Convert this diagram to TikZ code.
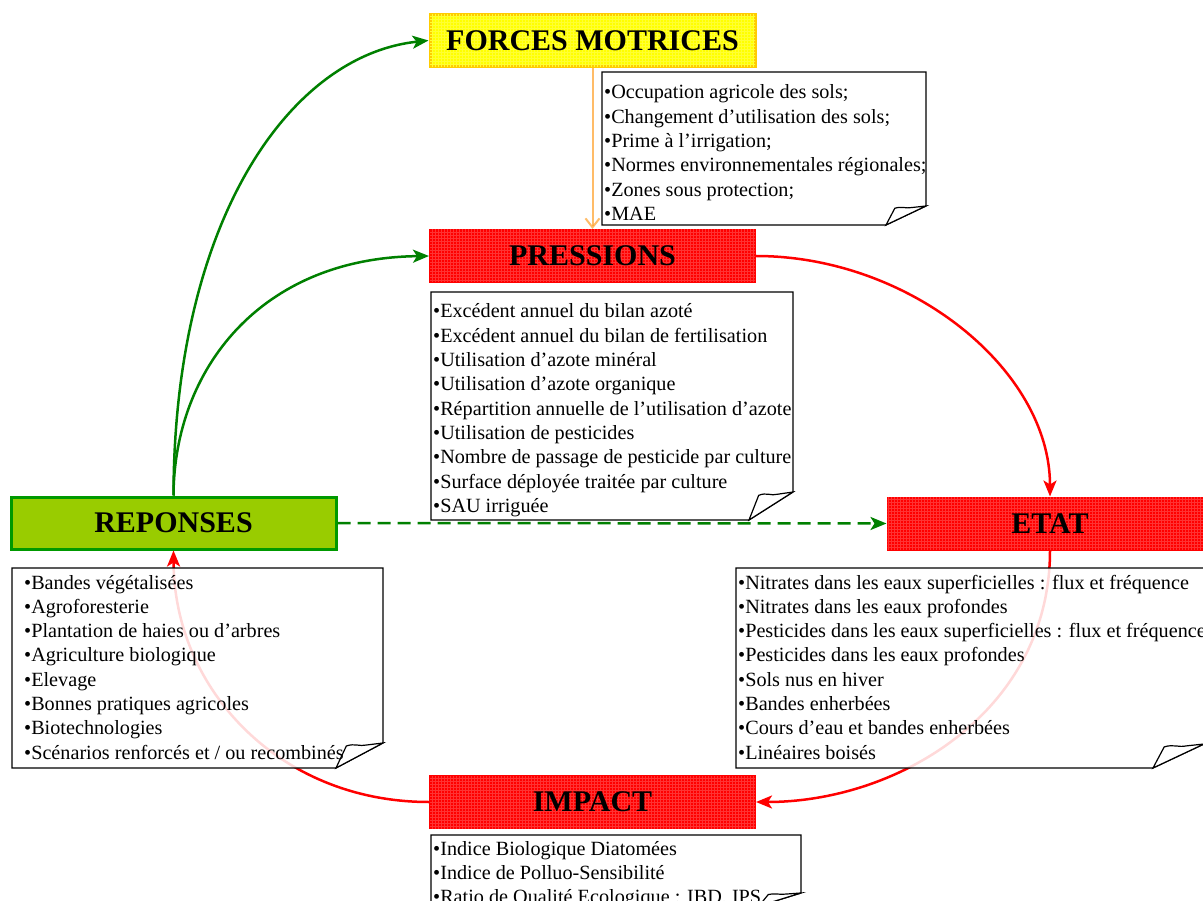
\documentclass[tikz,border=0pt]{standalone}
\usepackage{fontspec}
\setmainfont{Liberation Serif}
\usetikzlibrary{arrows.meta,patterns}
\definecolor{gfill}{RGB}{153,204,0}
\definecolor{gborder}{RGB}{0,153,0}
\definecolor{garrow}{RGB}{0,128,0}
\definecolor{yborder}{RGB}{255,204,0}
\definecolor{yfill}{RGB}{255,255,0}
\definecolor{oarrow}{RGB}{255,160,40}
\definecolor{rfill}{RGB}{255,0,0}
\newcommand{\notelines}[1]{\fontsize{20.2}{24.3}\selectfont\parbox[t]{600pt}{\raggedright #1}}
\newcommand{\foldnote}[6]{%
  \filldraw[notestyle] (#1,#2) -- (#3,#2) -- (#3,#4-#6) -- (#3-#5,#4) -- (#1,#4) -- cycle;
  \filldraw[notefold] (#3-#5,#4) -- (#3-0.78*#5,#4-0.88*#6)
     .. controls (#3-0.6*#5,#4-1.0*#6) and (#3-0.5*#5,#4-0.85*#6) .. (#3-0.35*#5,#4-0.92*#6)
     -- (#3,#4-#6) -- cycle;}
\tikzset{
  titlebox/.style={minimum width=325pt, minimum height=52pt, inner sep=0pt,
    font=\fontsize{30}{36}\selectfont\bfseries, text=black},
  redbox/.style={titlebox, fill=rfill, draw=rfill, line width=2pt,
    postaction={pattern=grid, pattern color=red!80!white}},
  yellowbox/.style={titlebox, fill=yfill, draw=yborder, line width=3pt,
    postaction={pattern=grid, pattern color=yellow!80!white}},
  greenbox/.style={titlebox, fill=gfill, draw=gborder, line width=3pt},
  notestyle/.style={draw=black, line width=1.2pt, fill=white, fill opacity=0.85},
  notefold/.style={draw=black, line width=1.2pt, fill=white},
  notetext/.style={anchor=base west, inner sep=0pt, text=black},
  garr/.style={draw=garrow, line width=2.5pt, -{Stealth[length=16pt,width=13pt,inset=4pt]}},
  rarr/.style={draw=red, line width=2.5pt, -{Stealth[length=16pt,width=13pt,inset=4pt]}},
  darr/.style={draw=garrow, line width=2.5pt, dash pattern=on 13pt off 7pt,
    -{Stealth[length=16pt,width=13pt,inset=4pt]}},
  oarr/.style={draw=oarrow, line width=2pt, -{Straight Barb[length=9pt,width=14pt]}}
}
\begin{document}
\begin{tikzpicture}[x=1pt,y=-1pt]
\useasboundingbox (0,0) rectangle (1203,901);
\clip (0,0) rectangle (1203,901);
\fill[white] (0,0) rectangle (1203,901);

% title boxes
\node[yellowbox] (fm) at (592.5,40.5) {FORCES MOTRICES};
\node[redbox] (pr) at (592.5,256) {PRESSIONS};
\node[greenbox] (rep) at (173.5,523) {REPONSES};
\node[redbox] (etat) at (1050,523.5) {ETAT};
\node[redbox] (imp) at (592.5,802) {IMPACT};

% connectors
\draw[garr] (rep.north) .. controls (174,220) and (290,55) .. (fm.west);
\draw[garr] (rep.north) .. controls (174,370) and (260,258) .. (pr.west);
\draw[rarr] (pr.east) .. controls (910,256) and (1050,370) .. (etat.north);
\draw[rarr] (etat.south) .. controls (1050,710) and (900,802) .. (imp.east);
\draw[rarr] (imp.west) .. controls (280,802) and (174,690) .. (rep.south);
\draw[darr] (rep.east) -- (etat.west);
\draw[oarr, draw opacity=0.7] (fm.south) -- (pr.north);

% notes
\foldnote{602}{72}{926}{225}{40}{19}
\foldnote{431}{292}{793}{520}{44}{28}
\foldnote{12}{568}{383}{768}{47}{25}
\foldnote{736}{568}{1204}{768}{51}{24}
\foldnote{431}{835}{801}{906}{42}{13}

\node[notetext] (nfm) at (604,99) {\notelines{%
•Occupation agricole des sols;\\
•Changement d’utilisation des sols;\\
•Prime à l’irrigation;\\
•Normes environnementales régionales;\\
•Zones sous protection;\\
•MAE}};
\node[notetext] (npr) at (433,318) {\notelines{%
•Excédent annuel du bilan azoté\\
•Excédent annuel du bilan de fertilisation\\
•Utilisation d’azote minéral\\
•Utilisation d’azote organique\\
•Répartition annuelle de l’utilisation d’azote\\
•Utilisation de pesticides\\
•Nombre de passage de pesticide par culture\\
•Surface déployée traitée par culture\\
•SAU irriguée}};
\node[notetext] (nrep) at (24,589) {\notelines{%
•Bandes végétalisées\\
•Agroforesterie\\
•Plantation de haies ou d’arbres\\
•Agriculture biologique\\
•Elevage\\
•Bonnes pratiques agricoles\\
•Biotechnologies\\
•Scénarios renforcés et / ou recombinés}};
\node[notetext] (netat) at (738,589) {\notelines{%
•Nitrates dans les eaux superficielles : flux et fréquence\\
•Nitrates dans les eaux profondes\\
•Pesticides dans les eaux superficielles : flux et fréquence\\
•Pesticides dans les eaux profondes\\
•Sols nus en hiver\\
•Bandes enherbées\\
•Cours d’eau et bandes enherbées\\
•Linéaires boisés}};
\node[notetext] (nimp) at (433,855) {\notelines{%
•Indice Biologique Diatomées\\
•Indice de Polluo-Sensibilité\\
•Ratio de Qualité Ecologique : IBD, IPS}};
\end{tikzpicture}
\end{document}
